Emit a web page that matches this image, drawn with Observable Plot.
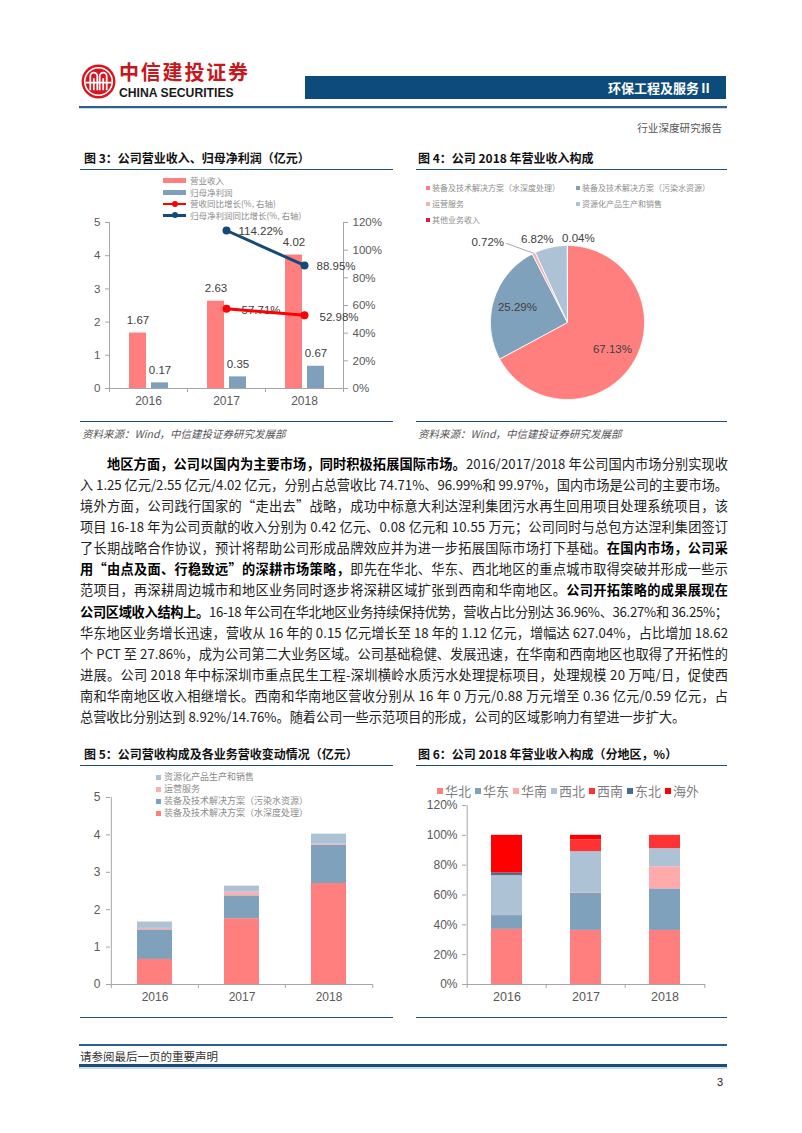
<!DOCTYPE html>
<html><head><meta charset="utf-8">
<script src="https://cdn.jsdelivr.net/npm/d3@7"></script>
<script src="https://cdn.jsdelivr.net/npm/@observablehq/plot@0.6"></script>
<style>
html,body{margin:0;padding:0;background:#fff;}
body{width:802px;height:1133px;position:relative;overflow:hidden;font-family:"Noto Sans CJK SC","Liberation Sans",sans-serif;color:#222;}
.a{position:absolute;}
.ftitle{font-size:12px;font-weight:bold;color:#111;white-space:nowrap;line-height:16px;}
.rule{height:0;border-top:1.6px solid #1f4e79;}
.src{font-size:10.5px;font-style:italic;color:#555;white-space:nowrap;line-height:14px;}
.leg{font-size:9px;color:#8c8c8c;white-space:nowrap;display:flex;align-items:center;}
.leg .t{display:inline-block;}
.sq{display:inline-block;width:5px;height:5px;margin-right:3px;flex:none;}
.ln{white-space:nowrap;height:21.17px;line-height:21.17px;}
.ln b{font-weight:bold;color:#000;}
.plotbox svg{background:transparent !important;}
</style></head><body>

<!-- header -->
<svg class="a" style="left:81px;top:64px" width="35" height="35" viewBox="0 0 32 32">
  <circle cx="16" cy="16" r="15.5" fill="#d9141e"/>
  <circle cx="16" cy="16" r="12.6" fill="none" stroke="#fff" stroke-width="1.5"/>
  <path d="M8.5 24 V11 a3.2 3.2 0 0 1 6.4 0 V24 M17.1 24 V11 a3.2 3.2 0 0 1 6.4 0 V24 M11.7 24 V13 M20.3 24 V13 M4 17 H28" fill="none" stroke="#fff" stroke-width="1.6"/>
</svg>
<div class="a" style="left:119px;top:60.5px;font-size:20px;letter-spacing:1.8px;font-weight:bold;color:#c8161d;white-space:nowrap;line-height:22px;height:22px;">中信建投证券</div>
<div class="a" style="left:119px;top:87px;font-size:12.2px;font-weight:bold;color:#1a1a1a;font-family:'Liberation Sans',Arial,sans-serif;white-space:nowrap;line-height:12px;height:12px;">CHINA SECURITIES</div>
<div class="a" style="left:305px;top:76px;width:421px;height:23px;background:#0d4b7a;"></div>
<div class="a" style="left:560px;top:76px;width:152px;height:23px;line-height:23px;text-align:right;color:#fff;font-weight:bold;font-size:13px;white-space:nowrap;">环保工程及服务Ⅱ</div>
<div class="a" style="left:79px;top:106px;width:648px;height:1.5px;background:#2b5f8c;"></div>
<div class="a" style="left:79px;top:107.5px;width:648px;height:1.5px;background:#c9dbe9;"></div>
<div class="a" style="left:560px;top:120px;width:162px;text-align:right;font-size:10.6px;color:#555;white-space:nowrap;line-height:16px;">行业深度研究报告</div>

<!-- figure 3 / 4 frames -->
<div class="a ftitle" style="left:84px;top:150px;">图 3：公司营业收入、归母净利润（亿元）</div>
<div class="a rule" style="left:80px;top:169px;width:313px;"></div>
<div class="a rule" style="left:80px;top:421px;width:313px;"></div>
<div class="a src" style="left:82px;top:427px;">资料来源：Wind，中信建投证券研究发展部</div>

<div class="a ftitle" style="left:418px;top:150px;">图 4：公司 2018 年营业收入构成</div>
<div class="a rule" style="left:416px;top:169px;width:311px;"></div>
<div class="a rule" style="left:416px;top:421px;width:311px;"></div>
<div class="a src" style="left:418px;top:427px;">资料来源：Wind，中信建投证券研究发展部</div>

<div id="fig3" class="a plotbox" style="left:80px;top:170px;width:320px;height:250px;"></div>
<div id="fig3leg" class="a" style="left:163px;top:175px;"></div>
<div id="fig4" class="a plotbox" style="left:416px;top:170px;width:312px;height:250px;"></div>
<div id="fig4leg" class="a" style="left:426px;top:182px;width:300px;"></div>

<!-- paragraph -->
<div id="para" class="a" style="left:80px;top:452.5px;width:648px;font-size:13.2px;color:#222;"></div>

<!-- figure 5 / 6 frames -->
<div class="a ftitle" style="left:84px;top:746px;">图 5：公司营收构成及各业务营收变动情况（亿元）</div>
<div class="a rule" style="left:80px;top:765px;width:313px;"></div>
<div class="a rule" style="left:80px;top:1017px;width:313px;"></div>
<div class="a ftitle" style="left:418px;top:746px;">图 6：公司 2018 年营业收入构成（分地区，%）</div>
<div class="a rule" style="left:416px;top:765px;width:311px;"></div>
<div class="a rule" style="left:416px;top:1017px;width:311px;"></div>

<div id="fig5" class="a plotbox" style="left:80px;top:770px;width:320px;height:245px;"></div>
<div id="fig5leg" class="a" style="left:156px;top:771px;"></div>
<div id="fig6" class="a plotbox" style="left:416px;top:770px;width:312px;height:245px;"></div>
<div id="fig6leg" class="a" style="left:437px;top:782px;"></div>

<!-- footer -->
<div class="a" style="left:79px;top:1044px;width:648px;height:1.5px;background:#2b5f8c;"></div>
<div class="a" style="left:80px;top:1048px;font-size:11.5px;color:#333;white-space:nowrap;line-height:16px;">请参阅最后一页的重要声明</div>
<div class="a" style="left:79px;top:1064px;width:648px;height:3px;background:#1b4d79;"></div>
<div class="a" style="left:79px;top:1067px;width:648px;height:1.5px;background:#c9dbe9;"></div>
<div class="a" style="left:700px;top:1075px;width:23px;text-align:right;font-size:11px;color:#222;font-family:'Liberation Sans',Arial,sans-serif;line-height:14px;">3</div>

<script>
// ---------------- data ----------------
const years = ["2016", "2017", "2018"];
// Figure 3
const revenue = [1.67, 2.63, 4.02];
const netProfit = [0.17, 0.35, 0.67];
const revenueYoY = [null, 57.71, 52.98];
const netProfitYoY = [null, 114.22, 88.95];
const fig3Names = ["营业收入", "归母净利润", "营收同比增长(%, 右轴)", "归母净利润同比增长(%, 右轴)"];
const leftTicks = [0, 1, 2, 3, 4, 5];
const rightTicks = [0, 20, 40, 60, 80, 100, 120];
// Figure 4
const segments = ["装备及技术解决方案（水深度处理）", "装备及技术解决方案（污染水资源）", "运营服务", "资源化产品生产和销售", "其他业务收入"];
const segShare2018 = [67.13, 25.29, 0.72, 6.82, 0.04];
const segColors = ["#ff7f7f", "#7fa1bb", "#f7b1b3", "#adc3d5", "#e5173f"];
// Figure 5
const segWater = [0.67, 1.76, 2.70];
const segPollution = [0.79, 0.61, 1.02];
const segOperation = [0.04, 0.10, 0.03];
const segResource = [0.17, 0.16, 0.27];
// Figure 6
const regions = ["华北", "华东", "华南", "西北", "西南", "东北", "海外"];
const regNorth = [36.96, 36.27, 36.25];
const regEast = [9.24, 25.00, 27.86];
const regSouth = [0.05, 0.30, 14.76];
const regNorthwest = [26.76, 27.50, 12.18];
const regSouthwest = [0.00, 7.92, 8.92];
const regNortheast = [1.70, 0.00, 0.00];
const regOverseas = [25.29, 3.01, 0.03];
const regColors = ["#ff7f7f", "#7fa1bb", "#ffabab", "#adc3d5", "#ff3333", "#4a6d8f", "#ff0000"];
const pctTicks = [0, 20, 40, 60, 80, 100, 120];

// ---------------- paragraph ----------------
const paraLines = [
  "<b>地区方面，公司以国内为主要市场，同时积极拓展国际市场。</b>2016/2017/2018 年公司国内市场分别实现收",
  "入 1.25 亿元/2.55 亿元/4.02 亿元，分别占总营收比 74.71%、96.99%和 99.97%，国内市场是公司的主要市场。",
  "境外方面，公司践行国家的“走出去”战略，成功中标意大利达涅利集团污水再生回用项目处理系统项目，该",
  "项目 16-18 年为公司贡献的收入分别为 0.42 亿元、0.08 亿元和 10.55 万元；公司同时与总包方达涅利集团签订",
  "了长期战略合作协议，预计将帮助公司形成品牌效应并为进一步拓展国际市场打下基础。<b>在国内市场，公司采</b>",
  "<b>用“由点及面、行稳致远”的深耕市场策略，</b>即先在华北、华东、西北地区的重点城市取得突破并形成一些示",
  "范项目，再深耕周边城市和地区业务同时逐步将深耕区域扩张到西南和华南地区。<b>公司开拓策略的成果展现在</b>",
  "<b>公司区域收入结构上。</b>16-18 年公司在华北地区业务持续保持优势，营收占比分别达 36.96%、36.27%和 36.25%；",
  "华东地区业务增长迅速，营收从 16 年的 0.15 亿元增长至 18 年的 1.12 亿元，增幅达 627.04%，占比增加 18.62",
  "个 PCT 至 27.86%，成为公司第二大业务区域。公司基础稳健、发展迅速，在华南和西南地区也取得了开拓性的",
  "进展。公司 2018 年中标深圳市重点民生工程-深圳横岭水质污水处理提标项目，处理规模 20 万吨/日，促使西",
  "南和华南地区收入相继增长。西南和华南地区营收分别从 16 年 0 万元/0.88 万元增至 0.36 亿元/0.59 亿元，占",
  "总营收比分别达到 8.92%/14.76%。随着公司一些示范项目的形成，公司的区域影响力有望进一步扩大。"
];
const para = document.getElementById("para");
paraLines.forEach((html, i) => {
  const d = document.createElement("div");
  d.className = "ln";
  const s = document.createElement("span");
  s.innerHTML = html;
  d.appendChild(s);
  if (i === 0) d.style.paddingLeft = "27px";
  para.appendChild(d);
  if (i < paraLines.length - 1) {
    const avail = 648 - (i === 0 ? 27 : 0);
    const w = s.getBoundingClientRect().width;
    const n = s.textContent.length;
    s.style.letterSpacing = ((avail - w) / (n - 1)) + "px";
  }
});

// ---------------- common styles ----------------
const numFont = "'Liberation Sans', Arial, sans-serif";
const axisGray = "#a6a6a6";
const labelGray = "#595959";

function legendRow(swatchHTML, text, rowH, fontSize, color) {
  const row = document.createElement("div");
  row.className = "leg";
  row.style.height = rowH + "px";
  row.style.fontSize = fontSize + "px";
  if (color) row.style.color = color;
  row.innerHTML = swatchHTML + `<span class="t" style="line-height:${rowH}px;">${text}</span>`;
  return row;
}

// ---------------- Figure 3 ----------------
{
  const W = 320, H = 250, mL = 29, mR = 57, mT = 52, mB = 32;
  const band = (W - mL - mR) / years.length;
  const rows = years.map((y, i) => ({year: y, revenue: revenue[i], profit: netProfit[i], revYoY: revenueYoY[i], npYoY: netProfitYoY[i]}));
  const scaleR = 5 / 120; // right axis mapped onto the left domain
  const revLine = rows.filter(d => d.revYoY != null);
  const npLine = rows.filter(d => d.npYoY != null);
  const chart = Plot.plot({
    width: W, height: H, marginLeft: mL, marginRight: mR, marginTop: mT, marginBottom: mB,
    x: {domain: years, padding: 0, label: null},
    y: {domain: [0, 5], label: null},
    style: {fontFamily: numFont, fontSize: "11.5px", color: labelGray, background: "transparent"},
    marks: [
      Plot.barY(rows, {x: "year", y: "revenue", fill: "#ff7f7f", insetLeft: 20, insetRight: 41}),
      Plot.barY(rows, {x: "year", y: "profit", fill: "#7f9fbb", insetLeft: 42, insetRight: 19}),
      Plot.text(rows, {x: "year", y: "revenue", text: d => d.revenue.toFixed(2), dx: -10.5, dy: -13, fill: "#404040", fontSize: 11.5}),
      Plot.text(rows, {x: "year", y: "profit", text: d => d.profit.toFixed(2), dx: 11.5, dy: -13, fill: "#404040", fontSize: 11.5}),
      Plot.ruleY([0], {stroke: axisGray}),
      Plot.ruleX([years[0]], {dx: -band / 2, y1: 0, y2: 5, stroke: axisGray}),
      Plot.ruleX([years[years.length - 1]], {dx: band / 2, y1: 0, y2: 5, stroke: axisGray}),
      Plot.ruleX(years, {dx: -band / 2, y1: 0, y2: 0, insetBottom: -4, stroke: axisGray}),
      Plot.ruleX([years[years.length - 1]], {dx: band / 2, y1: 0, y2: 0, insetBottom: -4, stroke: axisGray}),
      Plot.axisY(leftTicks, {anchor: "left", tickSize: 4, tickPadding: 5, stroke: axisGray, fill: labelGray, label: null}),
      Plot.axisY(rightTicks.map(p => p * scaleR), {anchor: "right", tickSize: 4, tickPadding: 5, stroke: axisGray, fill: labelGray, label: null, tickFormat: v => Math.round(v / scaleR) + "%"}),
      Plot.axisX({tickSize: 0, tickPadding: 8, fill: labelGray, label: null, fontSize: 12}),
      Plot.text(revLine, {x: "year", y: d => d.revYoY * scaleR, text: d => d.revYoY.toFixed(2) + "%", textAnchor: "start", dx: 15, dy: 2, fill: "#404040", fontSize: 11.5}),
      Plot.text(npLine, {x: "year", y: d => d.npYoY * scaleR, text: d => d.npYoY.toFixed(2) + "%", textAnchor: "start", dx: 12, dy: 1, fill: "#404040", fontSize: 11.5}),
      Plot.line(revLine, {x: "year", y: d => d.revYoY * scaleR, stroke: "#ff0000", strokeWidth: 3}),
      Plot.dot(revLine, {x: "year", y: d => d.revYoY * scaleR, r: 4, fill: "#ff0000"}),
      Plot.line(npLine, {x: "year", y: d => d.npYoY * scaleR, stroke: "#134a7a", strokeWidth: 3}),
      Plot.dot(npLine, {x: "year", y: d => d.npYoY * scaleR, r: 4, fill: "#134a7a"})
    ]
  });
  document.getElementById("fig3").appendChild(chart);
  const styles = [
    {kind: "bar", color: "#ff7f7f"}, {kind: "bar", color: "#7f9fbb"},
    {kind: "line", color: "#ff0000"}, {kind: "line", color: "#134a7a"}
  ];
  const rowH = 11.5;
  fig3Names.forEach((name, i) => {
    const st = styles[i];
    const c = rowH / 2;
    const inner = st.kind === "bar"
      ? `<span style="position:absolute;left:0;top:${c - 2.5}px;width:23px;height:5px;background:${st.color}"></span>`
      : `<span style="position:absolute;left:0;top:${c - 1.25}px;width:23px;height:2.5px;background:${st.color}"></span><span style="position:absolute;left:9px;top:${c - 3}px;width:6px;height:6px;border-radius:50%;background:${st.color}"></span>`;
    const sw = `<span style="position:relative;display:inline-block;flex:none;width:23px;height:${rowH}px;margin-right:4px;">${inner}</span>`;
    document.getElementById("fig3leg").appendChild(legendRow(sw, name, rowH, 8.5, null));
  });
}

// ---------------- Figure 4 (pie) ----------------
{
  const pie = d3.pie().sort(null).value(d => d.share).startAngle(0).endAngle(2 * Math.PI);
  const items = segments.map((s, i) => ({name: s, share: segShare2018[i]}));
  const arcs = pie(items);
  const pts = [];
  arcs.forEach(a => {
    const steps = Math.max(2, Math.ceil((a.endAngle - a.startAngle) / (Math.PI / 180)));
    pts.push({name: a.data.name, x: 0, y: 0});
    for (let k = 0; k <= steps; k++) {
      const t = a.startAngle + (a.endAngle - a.startAngle) * k / steps;
      pts.push({name: a.data.name, x: Math.sin(t), y: Math.cos(t)});
    }
    pts.push({name: a.data.name, x: 0, y: 0});
  });
  const mid = a => (a.startAngle + a.endAngle) / 2;
  const big = arcs.filter(a => a.data.share > 10);
  const labelOpts = {
    "资源化产品生产和销售": {dx: -12, dy: 0},
    "其他业务收入": {dx: 11, dy: 1}
  };
  const outer = arcs.filter(a => labelOpts[a.data.name]);
  const leader = arcs.filter(a => a.data.name === "运营服务");
  const W = 312, H = 250;
  const chart = Plot.plot({
    width: W, height: H, marginLeft: 74, marginRight: 84, marginTop: 75, marginBottom: 21,
    x: {domain: [-1, 1], axis: null},
    y: {domain: [-1, 1], axis: null},
    color: {domain: segments, range: segColors},
    style: {fontFamily: numFont, fontSize: "11.5px", background: "transparent"},
    marks: [
      Plot.line(pts, {x: "x", y: "y", z: "name", fill: "name", stroke: "#fff", strokeWidth: 0.8, curve: "linear"}),
      Plot.text(big, {x: a => 0.68 * Math.sin(mid(a)), y: a => 0.68 * Math.cos(mid(a)), text: a => a.data.share.toFixed(2) + "%", fill: "#404040"}),
      ...outer.map(a => Plot.text([a], {x: a => 1.1 * Math.sin(mid(a)), y: a => 1.1 * Math.cos(mid(a)), text: a => a.data.share.toFixed(2) + "%", fill: "#404040", dx: labelOpts[a.data.name].dx, dy: labelOpts[a.data.name].dy})),
      Plot.link(leader, {x1: a => Math.sin(mid(a)), y1: a => Math.cos(mid(a)), x2: a => Math.sin(mid(a)) - 0.36, y2: a => Math.cos(mid(a)) + 0.13, stroke: "#a6a6a6", strokeWidth: 1}),
      Plot.text(leader, {x: a => Math.sin(mid(a)) - 0.36, y: a => Math.cos(mid(a)) + 0.13, text: a => a.data.share.toFixed(2) + "%", textAnchor: "end", dx: -2, dy: -1, fill: "#404040"})
    ]
  });
  document.getElementById("fig4").appendChild(chart);
  const leg = document.getElementById("fig4leg");
  leg.style.cssText += "display:grid;grid-template-columns:150px 150px;row-gap:4px;";
  segments.forEach((s, i) => {
    const sw = `<span class="sq" style="width:4px;height:4px;margin-right:2px;background:${segColors[i]}"></span>`;
    leg.appendChild(legendRow(sw, s, 12, 8, null));
  });
}

// ---------------- Figure 5 ----------------
{
  const W = 320, H = 245, mL = 30, mR = 28, mT = 27, mB = 31;
  const band = (W - mL - mR) / years.length;
  const series = [segWater, segPollution, segOperation, segResource];
  const names = segments.slice(0, 4);
  const rows = [];
  years.forEach((y, i) => series.forEach((s, j) => rows.push({year: y, seg: names[j], value: s[i]})));
  const chart = Plot.plot({
    width: W, height: H, marginLeft: mL, marginRight: mR, marginTop: mT, marginBottom: mB,
    x: {domain: years, padding: 0, label: null},
    y: {domain: [0, 5], label: null},
    color: {domain: names, range: segColors.slice(0, 4)},
    style: {fontFamily: numFont, fontSize: "12px", color: labelGray, background: "transparent"},
    marks: [
      Plot.barY(rows, {x: "year", y: "value", fill: "seg", insetLeft: 26, insetRight: 26}),
      Plot.ruleY([0], {stroke: axisGray}),
      Plot.ruleX([years[0]], {dx: -band / 2, y1: 0, y2: 5, stroke: axisGray}),
      Plot.ruleX(years, {dx: -band / 2, y1: 0, y2: 0, insetBottom: -4, stroke: axisGray}),
      Plot.ruleX([years[years.length - 1]], {dx: band / 2, y1: 0, y2: 0, insetBottom: -4, stroke: axisGray}),
      Plot.axisY(leftTicks, {anchor: "left", tickSize: 4, tickPadding: 6, stroke: axisGray, fill: labelGray, label: null}),
      Plot.axisX({tickSize: 0, tickPadding: 8, fill: labelGray, label: null})
    ]
  });
  document.getElementById("fig5").appendChild(chart);
  const leg = document.getElementById("fig5leg");
  [3, 2, 1, 0].forEach(j => {
    const sw = `<span class="sq" style="background:${segColors[j]}"></span>`;
    leg.appendChild(legendRow(sw, names[j], 12, 9, null));
  });
}

// ---------------- Figure 6 ----------------
{
  const W = 312, H = 245, mL = 50, mR = 23, mT = 35, mB = 31;
  const band = (W - mL - mR) / years.length;
  const series = [regNorth, regEast, regSouth, regNorthwest, regSouthwest, regNortheast, regOverseas];
  const rows = [];
  years.forEach((y, i) => series.forEach((s, j) => rows.push({year: y, region: regions[j], value: s[i]})));
  const chart = Plot.plot({
    width: W, height: H, marginLeft: mL, marginRight: mR, marginTop: mT, marginBottom: mB,
    x: {domain: years, padding: 0, label: null},
    y: {domain: [0, 120], label: null},
    color: {domain: regions, range: regColors},
    style: {fontFamily: numFont, fontSize: "12px", color: labelGray, background: "transparent"},
    marks: [
      Plot.barY(rows, {x: "year", y: "value", fill: "region", insetLeft: 24, insetRight: 24}),
      Plot.ruleY([0], {stroke: axisGray}),
      Plot.ruleX([years[0]], {dx: -band / 2, y1: 0, y2: 120, stroke: axisGray}),
      Plot.ruleX(years, {dx: -band / 2, y1: 0, y2: 0, insetBottom: -4, stroke: axisGray}),
      Plot.ruleX([years[years.length - 1]], {dx: band / 2, y1: 0, y2: 0, insetBottom: -4, stroke: axisGray}),
      Plot.axisY(pctTicks, {anchor: "left", tickSize: 4, tickPadding: 5, stroke: axisGray, fill: labelGray, label: null, tickFormat: d => d + "%"}),
      Plot.axisX({tickSize: 0, tickPadding: 8, fill: labelGray, label: null, fontSize: 12.5})
    ]
  });
  document.getElementById("fig6").appendChild(chart);
  const leg = document.getElementById("fig6leg");
  leg.style.cssText += "display:flex;gap:4px;";
  regions.forEach((r, j) => {
    const sw = `<span class="sq" style="width:6px;height:6px;margin-right:2px;background:${regColors[j]}"></span>`;
    leg.appendChild(legendRow(sw, r, 18, 13, "#7f7f7f"));
  });
}
</script>
</body></html>
